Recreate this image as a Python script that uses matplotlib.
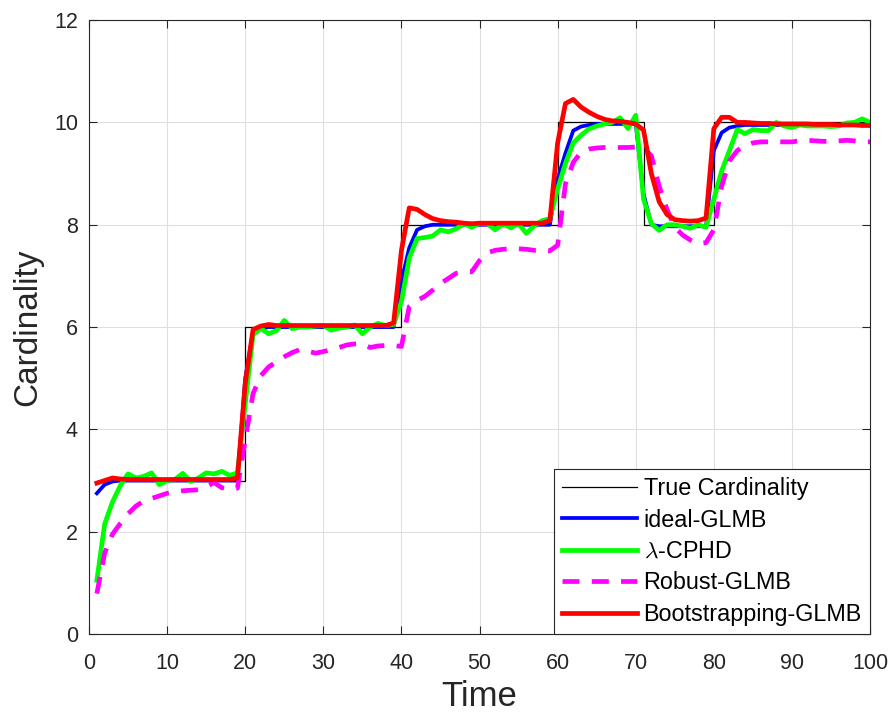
import numpy as np
import matplotlib
matplotlib.use("Agg")
import matplotlib.pyplot as plt

plt.rcParams["font.family"] = ["Liberation Sans", "DejaVu Sans"]
plt.rcParams["mathtext.fontset"] = "cm"

# time steps 1..100
time = np.arange(1, 101)

# true number of targets
true_card = [3] * 19 + [6] * 20 + [8] * 20 + [10] * 11 + [8] * 9 + [10] * 21

ideal_glmb = (
    [2.75, 2.92, 2.98] + [3.0] * 16
    + [5.0, 5.9, 5.97] + [6.0] * 17
    + [6.9, 7.55, 7.9, 7.97] + [8.0] * 16
    + [8.9, 9.4, 9.84, 9.92, 9.95] + [9.97] * 6
    + [8.6, 8.0, 7.97] + [7.97] * 6
    + [9.45, 9.8, 9.9, 9.93] + [9.95] * 17
)

lambda_cphd = [
    1.05, 2.15, 2.58, 2.90, 3.13, 3.05, 3.08, 3.15, 2.92, 3.00,
    3.02, 3.14, 2.98, 3.05, 3.15, 3.13, 3.18, 3.10, 3.15, 4.50,
    5.85, 5.97, 5.87, 5.93, 6.13, 5.97, 6.00, 6.00, 6.02, 6.03,
    5.94, 5.98, 6.00, 6.04, 5.87, 6.00, 6.07, 6.03, 6.05, 6.50,
    7.35, 7.73, 7.75, 7.78, 7.90, 7.86, 7.92, 8.02, 7.95, 8.03,
    8.02, 7.90, 8.02, 7.94, 8.02, 7.83, 7.98, 8.08, 8.12, 8.70,
    9.20, 9.60, 9.75, 9.87, 9.93, 9.97, 10.00, 10.09, 9.88, 10.14,
    8.50, 8.02, 7.89, 8.00, 8.00, 7.97, 7.93, 8.00, 7.95, 8.50,
    9.05, 9.45, 9.86, 9.78, 9.86, 9.84, 9.84, 10.00, 9.93, 9.90,
    9.95, 9.93, 9.93, 9.93, 9.92, 9.93, 9.99, 10.00, 10.07, 10.00,
]

robust_glmb = [
    0.79, 1.58, 1.95, 2.16, 2.35, 2.50, 2.60, 2.65, 2.70, 2.75,
    2.78, 2.80, 2.81, 2.82, 2.88, 2.96, 2.86, 2.83, 2.85, 3.80,
    4.70, 5.05, 5.22, 5.32, 5.42, 5.50, 5.56, 5.53, 5.49, 5.52,
    5.56, 5.60, 5.65, 5.67, 5.67, 5.60, 5.63, 5.64, 5.64, 5.62,
    6.40, 6.52, 6.60, 6.72, 6.85, 6.95, 7.05, 7.08, 7.08, 7.30,
    7.45, 7.50, 7.52, 7.53, 7.53, 7.52, 7.50, 7.50, 7.49, 7.60,
    8.80, 9.22, 9.42, 9.48, 9.50, 9.51, 9.51, 9.51, 9.51, 9.52,
    9.50, 9.35, 8.75, 8.30, 7.95, 7.80, 7.70, 7.63, 7.65, 7.90,
    8.75, 9.25, 9.45, 9.55, 9.60, 9.62, 9.62, 9.62, 9.62, 9.62,
    9.64, 9.65, 9.64, 9.63, 9.63, 9.64, 9.65, 9.64, 9.62, 9.62,
]

bootstrap_glmb = [
    2.95, 3.00, 3.05, 3.03, 3.02, 3.02, 3.02, 3.02, 3.02, 3.02,
    3.02, 3.02, 3.02, 3.02, 3.02, 3.02, 3.02, 3.02, 3.05, 4.90,
    5.95, 6.02, 6.05, 6.03, 6.03, 6.03, 6.03, 6.03, 6.03, 6.03,
    6.03, 6.03, 6.03, 6.03, 6.03, 6.03, 6.03, 6.03, 6.08, 7.50,
    8.33, 8.30, 8.20, 8.12, 8.08, 8.06, 8.05, 8.03, 8.02, 8.03,
    8.03, 8.03, 8.03, 8.03, 8.03, 8.03, 8.03, 8.03, 8.08, 9.60,
    10.37, 10.45, 10.30, 10.20, 10.12, 10.06, 10.03, 10.02, 10.00, 9.97,
    9.85, 9.00, 8.45, 8.20, 8.10, 8.08, 8.07, 8.08, 8.13, 9.88,
    10.10, 10.10, 10.00, 10.00, 9.99, 9.98, 9.98, 9.97, 9.97, 9.97,
    9.97, 9.97, 9.96, 9.96, 9.96, 9.95, 9.95, 9.95, 9.94, 9.94,
]

fig = plt.figure(figsize=(8.94, 7.13), dpi=100)
ax = fig.add_axes([0.0996, 0.1108, 0.8736, 0.861])

ax.step(time, true_card, where="post", color="black", linewidth=0.9,
        label="True Cardinality")
ax.plot(time, ideal_glmb, color=(0, 0, 1), linewidth=2.7,
        label="ideal-GLMB")
ax.plot(time, lambda_cphd, color=(0, 1, 0), linewidth=3.4,
        label=r"$\lambda$-CPHD")
ax.plot(time, robust_glmb, color=(1, 0, 1), linewidth=3.4,
        linestyle=(0, (3.6, 2.6)), label="Robust-GLMB")
ax.plot(time, bootstrap_glmb, color=(1, 0, 0), linewidth=3.4,
        label="Bootstrapping-GLMB")

ax.set_xlim(0, 100)
ax.set_ylim(0, 12)
ax.set_xticks(np.arange(0, 101, 10))
ax.set_yticks(np.arange(0, 13, 2))
ax.grid(True, color="#dfdfdf", linewidth=0.8)
ax.set_axisbelow(True)

dark = "#262626"
for s in ax.spines.values():
    s.set_color(dark)
    s.set_linewidth(0.8)
ax.tick_params(direction="in", length=5.5, width=0.8, colors=dark,
               labelsize=15.5, top=True, right=True)
ax.tick_params(axis="x", pad=14)
ax.tick_params(axis="y", pad=8)

ax.set_xlabel("Time", fontsize=25, color=dark, labelpad=4)
ax.set_ylabel("Cardinality", fontsize=24, color=dark, labelpad=8)

leg = ax.legend(loc="lower right", fontsize=16.8, frameon=True,
                fancybox=False, borderaxespad=0, handlelength=3.2,
                handletextpad=0.3, labelspacing=0.36, borderpad=0.35)
leg.get_frame().set_edgecolor(dark)
leg.get_frame().set_linewidth(0.8)
leg.get_frame().set_alpha(1)

fig.savefig("out.png", dpi=100)
